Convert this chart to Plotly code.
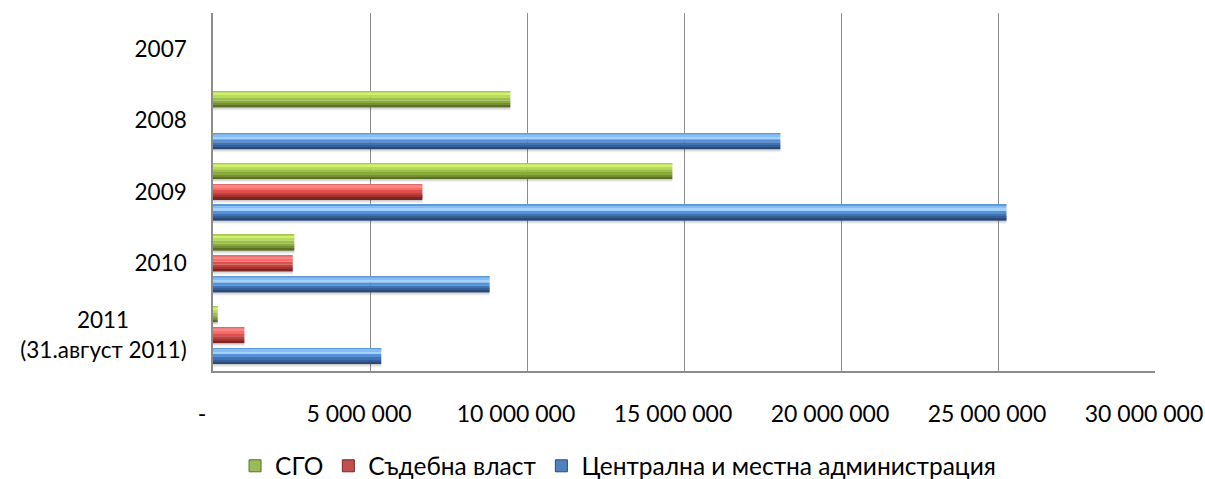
import plotly.graph_objects as go

# Categories (top to bottom) and their displayed labels
years = ["2007", "2008", "2009", "2010", "2011"]
year_labels = ["2007", "2008", "2009", "2010",
               "2011" + "\u00a0" * 10 + "<br>(31.август 2011)"]

# Series values, in leva
sgo = [0, 9_470_000, 14_630_000, 2_590_000, 150_000]
sadebna = [0, 0, 6_670_000, 2_540_000, 1_000_000]
admin = [0, 18_070_000, 25_270_000, 8_810_000, 5_360_000]

series_names = ["СГО", "Съдебна власт", "Централна и местна администрация"]
series_values = [sgo, sadebna, admin]

# x axis ticks (accounting style: dash for zero)
x_ticks = [0, 5_000_000, 10_000_000, 15_000_000, 20_000_000, 25_000_000, 30_000_000]
x_tick_text = ["-", "5 000 000", "10 000 000", "15 000 000",
               "20 000 000", "25 000 000", "30 000 000"]

# Bevel shading, top edge to bottom edge, per series
shades = [
    ["#a8c852", "#d2f070", "#b6da5a", "#9ec049", "#8aaa3e", "#768f35", "#5a7029"],
    ["#e06a68", "#f58886", "#ff6a66", "#dc504d", "#c0403d", "#a33331", "#7e2523"],
    ["#5f9ad8", "#86bdf2", "#a2d2ff", "#5590d8", "#4072b2", "#355f98", "#284a78"],
]
legend_colors = ["#9bbb59", "#c0504d", "#4f81bd"]

CAT_PX = 72.0          # pixels per category band
BAR_PX = 16.0          # bar thickness in pixels
STEP_PX = 21.0         # distance between bars inside a group
# strip heights in pixels, from bar top down (sum = BAR_PX)
strip_px = [1, 3, 2, 3, 3, 2, 2]

fig = go.Figure()

for i, (name, vals) in enumerate(zip(series_names, series_values)):
    center_px = (i - 1) * STEP_PX
    top_px = center_px - BAR_PX / 2
    # soft shadow under each bar
    for k, alpha in enumerate([0.2, 0.12, 0.06]):
        fig.add_trace(go.Bar(
            y=years, x=vals, orientation="h",
            width=1 / CAT_PX, offset=(top_px + BAR_PX + k) / CAT_PX,
            marker=dict(color=f"rgba(0,0,0,{alpha})", line=dict(width=0)),
            showlegend=False, hoverinfo="skip", legendgroup=name,
        ))
    start = 0.0
    for h, col in zip(strip_px, shades[i]):
        fig.add_trace(go.Bar(
            y=years, x=vals, orientation="h", name=name,
            width=h / CAT_PX, offset=(top_px + start) / CAT_PX,
            marker=dict(color=col, line=dict(width=0)),
            showlegend=False, legendgroup=name,
        ))
        start += h
    # legend entry
    fig.add_trace(go.Bar(
        y=[None], x=[None], orientation="h", name=name,
        marker=dict(color=legend_colors[i], line=dict(color=shades[i][-1], width=1)),
        showlegend=True, legendgroup=name,
    ))

fig.update_layout(
    barmode="overlay",
    width=1205, height=479,
    margin=dict(l=213, r=50, t=13, b=108, autoexpand=False),
    paper_bgcolor="white", plot_bgcolor="white",
    font=dict(family="Lato, 'Open Sans', sans-serif", color="#000000", size=22),
    showlegend=True,
    legend=dict(orientation="h", x=0.43, xanchor="center", y=-0.265, yanchor="middle",
                font=dict(size=24.5), itemwidth=30, tracegroupgap=0,
                bgcolor="rgba(0,0,0,0)"),
)

fig.update_xaxes(
    range=[0, 30_000_000], tickvals=x_ticks, ticktext=x_tick_text,
    showgrid=True, gridcolor="#8c8c8c", gridwidth=1,
    showline=True, linecolor="#8c8c8c", linewidth=1.5,
    zeroline=False, ticks="", ticklabelstandoff=22, ticklabelshift=-11,
    ticklabeloverflow="allow", automargin=False,
    tickfont=dict(size=23),
)
fig.update_yaxes(
    type="category", categoryorder="array", categoryarray=years,
    autorange="reversed", tickvals=years, ticktext=year_labels,
    showgrid=False, showline=True, linecolor="#8c8c8c", linewidth=1.5,
    ticks="", ticklabelstandoff=20, automargin=False,
    tickfont=dict(size=22.5),
)

fig.write_html("out.html")
